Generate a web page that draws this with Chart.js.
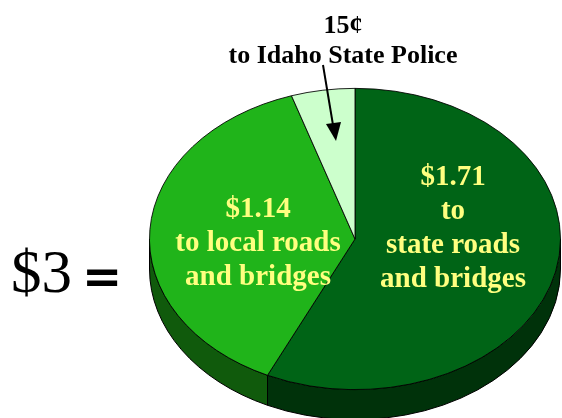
<!DOCTYPE html>
<html>
<head>
<meta charset="utf-8">
<script src="https://cdn.jsdelivr.net/npm/chart.js@4"></script>
<style>
  body { margin: 0; background: #fff; }
  #wrap { position: relative; width: 562px; height: 418px; overflow: hidden; }
  canvas { position: absolute; left: 0; top: 0; }
  .lbl { position: absolute; font-family: "Liberation Serif", "Times New Roman", serif; font-weight: bold; text-align: center; white-space: nowrap; }
  .yel { color: #ffff80; font-size: 29px; line-height: 34px; width: 240px; }
</style>
</head>
<body>
<div id="wrap">
  <canvas id="myChart" width="562" height="418"></canvas>
  <div class="lbl" style="left:193px; top:10px; width:300px; font-size:26px; line-height:30px; color:#000;">15¢<br>to Idaho State Police</div>
  <div class="lbl yel" style="left:333px; top:158px;">$1.71<br>to<br>state roads<br>and bridges</div>
  <div class="lbl yel" style="left:138px; top:190px;">$1.14<br>to local roads<br>and bridges</div>
  <div class="lbl" style="left:11px; top:232px; font-size:61px; line-height:80px; font-weight:normal; color:#000;">$3</div>
  <div class="lbl" style="left:82px; top:236px; font-family:'DejaVu Serif', serif; font-size:48px; line-height:80px; color:#000;">=</div>
</div>
<script>
// Daten
const labels = ['state roads and bridges', 'local roads and bridges', 'Idaho State Police'];
const values = [1.71, 1.14, 0.15];
const topColors = ['rgb(0,100,22)', 'rgb(32,180,26)', 'rgb(204,255,204)'];
const sideColors = ['rgb(0,50,10)', 'rgb(16,90,12)', 'rgb(120,170,120)'];

// Neigung und Tiefe der Torte
const TILT = 0.733;
const DEPTH = 30;
const TARGET_CY = 239;

function frontRange(s, e) {
    // Teil des Bogens, der vorne (0..PI) liegt
    const out = [];
    for (let k = -2; k <= 2; k++) {
        const a = Math.max(s, k * 2 * Math.PI);
        const b = Math.min(e, k * 2 * Math.PI + Math.PI);
        if (b > a) out.push([a, b]);
    }
    return out;
}

const tiltPlugin = {
    id: 'tilt',
    beforeDatasetsDraw(chart) {
        const ctx = chart.ctx;
        const arcs = chart.getDatasetMeta(0).data;
        const cx = arcs[0].x, cy = arcs[0].y, rx = arcs[0].outerRadius, ry = rx * TILT;
        ctx.save();
        ctx.lineWidth = 1;
        ctx.strokeStyle = '#000';
        arcs.forEach((arc, i) => {
            frontRange(arc.startAngle, arc.endAngle).forEach(([a, b]) => {
                ctx.beginPath();
                ctx.ellipse(cx, TARGET_CY, rx, ry, 0, a, b, false);
                ctx.lineTo(cx + rx * Math.cos(b), TARGET_CY + ry * Math.sin(b) + DEPTH);
                ctx.ellipse(cx, TARGET_CY + DEPTH, rx, ry, 0, b, a, true);
                ctx.closePath();
                ctx.fillStyle = sideColors[i];
                ctx.fill();
                ctx.stroke();
            });
        });
        ctx.restore();
        ctx.save();
        ctx.translate(0, TARGET_CY);
        ctx.scale(1, TILT);
        ctx.translate(0, -cy);
    },
    afterDatasetsDraw(chart) {
        chart.ctx.restore();
        // Pfeil zum 15-Cent-Stück
        const ctx = chart.ctx;
        ctx.save();
        ctx.strokeStyle = '#000';
        ctx.fillStyle = '#000';
        ctx.lineWidth = 2;
        ctx.beginPath();
        ctx.moveTo(323, 65);
        ctx.lineTo(333, 125);
        ctx.stroke();
        ctx.beginPath();
        ctx.moveTo(336, 141);
        ctx.lineTo(326, 124);
        ctx.lineTo(341, 122);
        ctx.closePath();
        ctx.fill();
        ctx.restore();
    }
};

var ctx = document.getElementById('myChart').getContext('2d');
var myChart = new Chart(ctx, {
    type: 'pie',
    data: {
        labels: labels,
        datasets: [{
            data: values,
            backgroundColor: topColors,
            borderColor: '#000',
            borderWidth: 1
        }]
    },
    options: {
        responsive: false,
        animation: false,
        layout: { padding: { left: 148, right: 0, top: 3, bottom: 3 } },
        plugins: {
            legend: { display: false },
            tooltip: { enabled: false }
        }
    },
    plugins: [tiltPlugin]
});
</script>
</body>
</html>
